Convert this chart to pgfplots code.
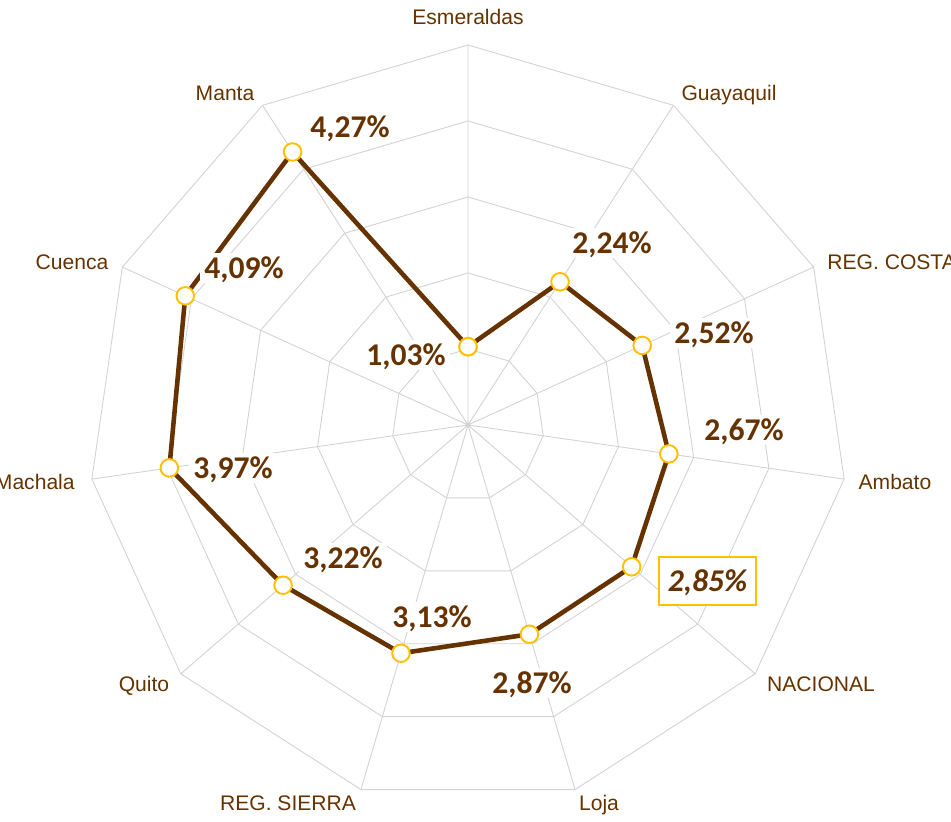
\documentclass[border=0pt]{standalone}
\usepackage{pgfplots}
\pgfplotsset{compat=1.18}
\usepackage{fontspec}
\setmainfont{Liberation Sans}
\newfontfamily\calib{Carlito}

\definecolor{brown1}{RGB}{102,51,0}
\definecolor{gold1}{RGB}{255,192,0}
\definecolor{gridc}{RGB}{210,210,210}

\tikzset{
  gridl/.style={gridc, line width=0.5pt, mark=none},
  lab/.style={font=\calib\bfseries\fontsize{18}{20}\selectfont, text=brown1,
              fill=white, inner sep=2.5pt, text depth=0pt},
  cat/.style={font=\fontsize{12}{14}\selectfont, text=brown1, text depth=0pt, inner sep=0pt},
}

\begin{document}
\begin{tikzpicture}
\begin{axis}[
  width=19.02cm, height=16.44cm, scale only axis,
  xmin=-6.1579, xmax=6.3553, ymin=-5.2237, ymax=5.5921,
  hide axis, clip=false,
]
%% spokes
\addplot[gridl, data cs=polar] coordinates {
  (90,5) (0,0) (57.2727,5) (0,0) (24.5455,5) (0,0) (-8.1818,5) (0,0)
  (-40.9091,5) (0,0) (-73.6364,5) (0,0) (-106.3636,5) (0,0)
  (-139.0909,5) (0,0) (-171.8182,5) (0,0) (155.4545,5) (0,0) (122.7273,5)};
%% rings
\addplot[gridl, data cs=polar] coordinates {(90,1) (57.2727,1) (24.5455,1) (-8.1818,1) (-40.9091,1) (-73.6364,1) (-106.3636,1) (-139.0909,1) (-171.8182,1) (155.4545,1) (122.7273,1) (90,1)};
\addplot[gridl, data cs=polar] coordinates {(90,2) (57.2727,2) (24.5455,2) (-8.1818,2) (-40.9091,2) (-73.6364,2) (-106.3636,2) (-139.0909,2) (-171.8182,2) (155.4545,2) (122.7273,2) (90,2)};
\addplot[gridl, data cs=polar] coordinates {(90,3) (57.2727,3) (24.5455,3) (-8.1818,3) (-40.9091,3) (-73.6364,3) (-106.3636,3) (-139.0909,3) (-171.8182,3) (155.4545,3) (122.7273,3) (90,3)};
\addplot[gridl, data cs=polar] coordinates {(90,4) (57.2727,4) (24.5455,4) (-8.1818,4) (-40.9091,4) (-73.6364,4) (-106.3636,4) (-139.0909,4) (-171.8182,4) (155.4545,4) (122.7273,4) (90,4)};
\addplot[gridl, data cs=polar] coordinates {(90,5) (57.2727,5) (24.5455,5) (-8.1818,5) (-40.9091,5) (-73.6364,5) (-106.3636,5) (-139.0909,5) (-171.8182,5) (155.4545,5) (122.7273,5) (90,5)};

%% data: Esmeraldas, Guayaquil, REG. COSTA, Ambato, NACIONAL, Loja,
%% REG. SIERRA, Quito, Machala, Cuenca, Manta (clockwise from top)
\addplot[brown1, line width=2.6pt, data cs=polar, mark=*,
  mark size=5pt, mark options={fill=white, draw=gold1, line width=1.1pt}]
  coordinates {
  (90,1.03) (57.2727,2.24) (24.5455,2.52) (-8.1818,2.67) (-40.9091,2.85)
  (-73.6364,2.87) (-106.3636,3.13) (-139.0909,3.22) (-171.8182,3.97)
  (155.4545,4.09) (122.7273,4.27) (90,1.03)};

%% data labels
\node[lab] at (axis cs:-1.553,3.921) {4,27\%};
\node[lab] at (axis cs:-2.947,2.066) {4,09\%};
\node[lab] at (axis cs:-0.816,0.921) {1,03\%};
\node[lab] at (axis cs:1.895,2.395) {2,24\%};
\node[lab] at (axis cs:3.237,1.211) {2,52\%};
\node[lab] at (axis cs:3.632,-0.066) {2,67\%};
\node[lab, font=\calib\bfseries\itshape\fontsize{18}{20}\selectfont,
  draw=gold1, line width=1.1pt, minimum width=1.94cm, minimum height=0.96cm]
  at (axis cs:3.151,-2.053) {2,85\%};
\node[lab] at (axis cs:0.842,-3.395) {2,87\%};
\node[lab] at (axis cs:-0.474,-2.526) {3,13\%};
\node[lab] at (axis cs:-1.645,-1.75) {3,22\%};
\node[lab] at (axis cs:-3.092,-0.566) {3,97\%};

%% category labels
\node[cat] at (axis cs:0,5.368) {Esmeraldas};
\node[cat] at (axis cs:3.434,4.368) {Guayaquil};
\node[cat, anchor=west] at (axis cs:4.724,2.145) {REG. COSTA};
\node[cat] at (axis cs:5.618,-0.75) {Ambato};
\node[cat] at (axis cs:4.645,-3.408) {NACIONAL};
\node[cat] at (axis cs:1.724,-4.974) {Loja};
\node[cat] at (axis cs:-2.368,-4.974) {REG. SIERRA};
\node[cat] at (axis cs:-4.263,-3.408) {Quito};
\node[cat, anchor=east] at (axis cs:-5.171,-0.75) {Machala};
\node[cat] at (axis cs:-5.211,2.145) {Cuenca};
\node[cat] at (axis cs:-3.197,4.368) {Manta};
\end{axis}
\pgfresetboundingbox
\useasboundingbox (current axis.south west) rectangle (current axis.north east);
\end{tikzpicture}
\end{document}
